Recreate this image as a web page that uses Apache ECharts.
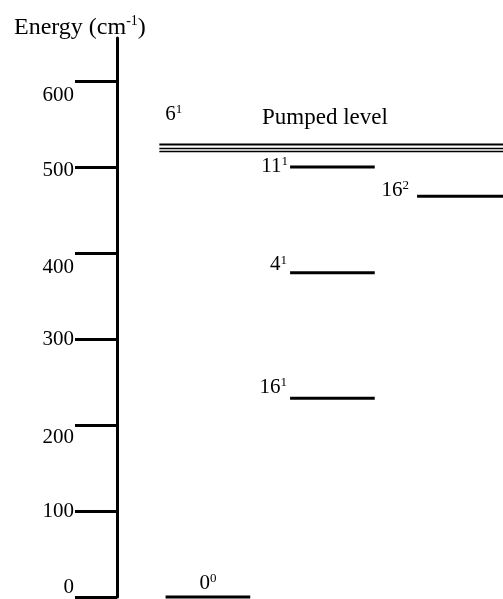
<!DOCTYPE html>
<html><head><meta charset="utf-8">
<script src="https://cdn.jsdelivr.net/npm/echarts@6/dist/echarts.min.js"></script>
<style>html,body{margin:0;padding:0;background:#fff}#c{width:503px;height:599px}</style>
</head><body><div id="c"></div>
<script>
// ---- data ----
const tickValues = [0, 100, 200, 300, 400, 500, 600];
const levelNames = ['0', '16', '4', '11', '16', '6'];
const levelQuanta = ['0', '1', '1', '1', '2', '1'];
const levelEnergy = [0, 231, 377, 500, 466, 522];
const levelColumn = [0, 1, 1, 1, 2, 0];
const levelNote = ['', '', '', '', '', 'Pumped level'];
const axisTitle = 'Energy (cm';
const axisTitleSup = '-1';

// ---- style ----
const FONT = 'Liberation Serif';
const labelPlacement = ['top', 'left', 'left', 'left', 'left', 'pumped'];
const labelDx = [0, -3, -3, -2, -8, 0];
const labelDy = [0, -11, -8, -1, -6, 0];
const tickLabelDy = {0: -10, 100: 0, 200: 12, 300: 0, 400: 14, 500: 3, 600: 14};
const COL_W = 0.68;
const COL_W_LAST = 0.71;
const X_MIN = -0.39, X_MAX = 2.71;

const rich = {
  b: {fontFamily: FONT, fontSize: 21, color: '#000', lineHeight: 22},
  s: {fontFamily: FONT, fontSize: 13, color: '#000', lineHeight: 13, verticalAlign: 'top'}
};
function levelText(i) { return '{b|' + levelNames[i] + '}{s|' + levelQuanta[i] + '}'; }

function renderItem(params, api) {
  const col = api.value(0), e = api.value(1), i = api.value(2);
  const pumped = labelPlacement[i] === 'pumped';
  const x0 = pumped ? col - 0.05 : (col === 2 ? col + 0.02 : col);
  const x1 = pumped ? X_MAX : (col === 2 ? X_MAX : col + COL_W);
  const p0 = api.coord([x0, e]), p1 = api.coord([x1, e]);
  const children = [];
  if (pumped) {
    [-3.5, 0.5, 3.5].forEach(function (d, k) {
      children.push({type: 'line', shape: {x1: p0[0], y1: p0[1] + d, x2: p1[0], y2: p1[1] + d},
        style: {stroke: '#000', lineWidth: k === 0 ? 2 : 1.5}});
    });
    children.push({type: 'text', x: p0[0] + 6, y: p0[1] - 34,
      style: {text: levelText(i), rich: rich, align: 'left', verticalAlign: 'middle'}});
    const nx = api.coord([1.28, e])[0];
    children.push({type: 'text', x: nx, y: p0[1] - 30,
      style: {text: levelNote[i], fontFamily: FONT, fontSize: 23, fill: '#000', align: 'center', verticalAlign: 'middle'}});
  } else {
    children.push({type: 'line', shape: {x1: p0[0], y1: p0[1], x2: p1[0], y2: p1[1]},
      style: {stroke: '#000', lineWidth: 3}});
    if (labelPlacement[i] === 'top') {
      children.push({type: 'text', x: (p0[0] + p1[0]) / 2, y: p0[1] - 3,
        style: {text: levelText(i), rich: rich, align: 'center', verticalAlign: 'bottom'}});
    } else {
      children.push({type: 'text', x: p0[0] + labelDx[i], y: p0[1] + labelDy[i],
        style: {text: levelText(i), rich: rich, align: 'right', verticalAlign: 'middle'}});
    }
  }
  return {type: 'group', children: children};
}

const tickRich = {};
tickValues.forEach(function (v) {
  const dy = tickLabelDy[v] || 0;
  tickRich['t' + v] = {fontFamily: FONT, fontSize: 21, color: '#000', lineHeight: 22,
    padding: dy >= 0 ? [2 * dy, 0, 0, 0] : [0, 0, -2 * dy, 0]};
});

const chart = echarts.init(document.getElementById('c'), null, {renderer: 'canvas'});
chart.setOption({
  animation: false,
  backgroundColor: '#fff',
  title: {
    text: '{a|' + axisTitle + '}{s|' + axisTitleSup + '}{a|)}',
    left: 9, top: 9,
    textStyle: {fontWeight: 'normal', rich: {
      a: {fontFamily: FONT, fontSize: 24, fontWeight: 'normal', color: '#000', lineHeight: 27},
      s: {fontFamily: FONT, fontSize: 14, fontWeight: 'normal', color: '#000', lineHeight: 14, verticalAlign: 'top'}
    }}
  },
  grid: {left: 117, right: 0, top: 38, bottom: 2, containLabel: false, outerBoundsMode: 'none'},
  xAxis: {type: 'value', min: X_MIN, max: X_MAX, show: false},
  yAxis: {
    type: 'value', min: 0, max: 650,
    axisLine: {show: true, onZero: false, lineStyle: {color: '#000', width: 3}},
    axisTick: {show: true, inside: false, length: 42, customValues: tickValues,
      lineStyle: {color: '#000', width: 3}},
    axisLabel: {show: true, margin: 43, customValues: tickValues,
      formatter: function (v) { return '{t' + v + '|' + v + '}'; }, rich: tickRich},
    splitLine: {show: false}
  },
  series: [{
    type: 'custom',
    renderItem: renderItem,
    encode: {x: 0, y: 1},
    data: levelEnergy.map(function (e, i) { return [levelColumn[i], e, i]; })
  }]
});
</script>
</body></html>
